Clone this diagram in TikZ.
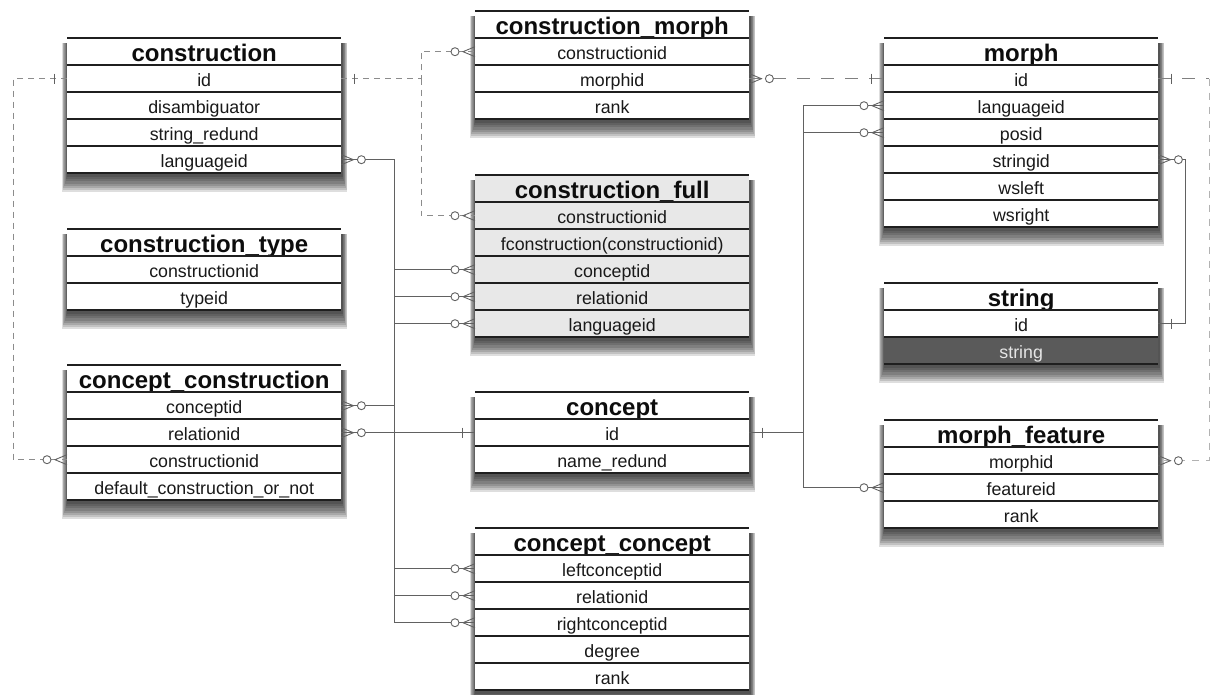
\documentclass[tikz,border=0pt]{standalone}
\usepackage{fontspec}
\setmainfont{Liberation Sans}
\usetikzlibrary{calc}
\pgfdeclarelayer{bg}
\pgfsetlayers{bg,main}
\definecolor{darkfill}{HTML}{5A5A5A}
\definecolor{fullfill}{HTML}{E8E8E8}
\newcommand\hdrfont{\bfseries\fontsize{24}{26}\selectfont}
\newcommand\rowfont{\fontsize{17.8}{20}\selectfont}
\tikzset{
 hdr/.style={anchor=north west, minimum width=274pt, minimum height=27pt, inner sep=0pt, text height=23pt, text depth=4pt, font=\hdrfont, text=black!95},
 row/.style={anchor=north west, minimum width=274pt, minimum height=27pt, inner sep=0pt, text height=21pt, text depth=6pt, font=\rowfont, text=black!90},
 darkrow/.style={fill=darkfill, text=black!10},
 tline/.style={draw=black!88, line width=1.4pt},
 bline/.style={draw=black!88, line width=2pt},
 conn/.style={draw=black!62, line width=0.9pt},
 dashA/.style={draw=black!45, line width=0.9pt, dash pattern=on 6pt off 5pt},
 dashC/.style={draw=black!50, line width=0.9pt, dash pattern=on 13pt off 11pt},
 dashR/.style={draw=black!30, line width=0.8pt, dash pattern=on 7pt off 7pt},
 mk/.style={draw=black!62, line width=0.9pt, solid},
 rs/.style={}
}
% #1 id, #2 x, #3 y top, #4 fill, #5 dark row index, #6 header, #7 number of rows, #8 rows
\newcommand\ertable[8]{%
 \node[hdr, fill=#4] (#1-0) at (#2,#3) {#6};
 \foreach \r [count=\i] in {#8} {%
   \ifnum\i=#5\relax \tikzset{rs/.style={darkrow}}\else\tikzset{rs/.style={}}\fi
   \node[row, fill=#4, rs] (#1-\i) at (#2,#3+27*\i) {\r};
   \draw[tline] (#1-\i.north west) -- (#1-\i.north east);
 }
 \draw[tline] (#1-0.north west) -- (#1-0.north east);
 \draw[bline] (#1-#7.south west) -- (#1-#7.south east);
 \begin{pgfonlayer}{bg}
  \foreach \k in {0,...,7}{
   \fill[black, opacity=0.13] ([xshift=-5pt+\k*0.7pt, yshift=-5pt]#1-0.north west) rectangle ([xshift=6pt-\k*0.7pt, yshift=-19pt+\k*2.2pt]#1-#7.south east);
  }
 \end{pgfonlayer}
}
% zero-or-many marker at a node anchor; #2 = +1 connector leaves rightwards, -1 leftwards
\newcommand\zmany[2]{%
 \draw[mk] ($(#1)+(0,-5)$) -- ($(#1)+(#2*12,0)$) -- ($(#1)+(0,5)$);
 \draw[mk, fill=white] ($(#1)+(#2*20,0)$) circle[radius=4pt];
}
% exactly-one marker
\newcommand\onemk[2]{%
 \draw[mk] ($(#1)+(#2*13,-5)$) -- ($(#1)+(#2*13,5)$);
}
\begin{document}
\begin{tikzpicture}[x=1pt,y=-1pt]
\useasboundingbox (0,0) rectangle (1211,695);

\ertable{c}{67}{38}{white}{0}{construction}{4}{id,disambiguator,string\_redund,languageid}
\ertable{ct}{67}{229}{white}{0}{construction\_type}{2}{constructionid,typeid}
\ertable{cc}{67}{365}{white}{0}{concept\_construction}{4}{conceptid,relationid,constructionid,default\_construction\_or\_not}
\ertable{cm}{475}{11}{white}{0}{construction\_morph}{3}{constructionid,morphid,rank}
\ertable{cf}{475}{175}{fullfill}{0}{construction\_full}{5}{constructionid,fconstruction(constructionid),conceptid,relationid,languageid}
\ertable{co}{475}{392}{white}{0}{concept}{2}{id,name\_redund}
\ertable{ccc}{475}{528}{white}{0}{concept\_concept}{5}{leftconceptid,relationid,rightconceptid,degree,rank}
\ertable{m}{884}{38}{white}{0}{morph}{6}{id,languageid,posid,stringid,wsleft,wsright}
\ertable{s}{884}{283}{white}{2}{string}{2}{id,string}
\ertable{mf}{884}{420}{white}{0}{morph\_feature}{3}{morphid,featureid,rank}

\coordinate (busL) at (13,0);
\coordinate (busB) at (421,0);
\coordinate (busG) at (394,0);
\coordinate (busF) at (803,0);
\coordinate (busS) at (1185,0);
\coordinate (busR) at (1209,0);

% construction.id -> concept_construction.constructionid
\draw[dashA] (c-1.west) -| (busL |- cc-3.west) -- (cc-3.west);
\onemk{c-1.west}{-1}
\zmany{cc-3.west}{-1}
% construction.id -> construction_morph / construction_full
\draw[dashA] (c-1.east) -| (busB |- cm-1.west) -- (cm-1.west);
\draw[dashA] (busB |- c-1.east) |- (cf-1.west);
\onemk{c-1.east}{1}
\zmany{cm-1.west}{-1}
\zmany{cf-1.west}{-1}
% construction_morph.morphid -> morph.id
\draw[dashC] (cm-2.east) -- (m-1.west);
\zmany{cm-2.east}{1}
\onemk{m-1.west}{-1}
% morph.id -> morph_feature.morphid
\draw[dashC] (m-1.east) -- (busR |- m-1.east);
\draw[dashR] (busR |- m-1.east) -- (busR |- mf-1.east) -- (mf-1.east);
\onemk{m-1.east}{1}
\zmany{mf-1.east}{1}
% morph.stringid -> string.id
\draw[conn] (m-4.east) -| (busS |- s-1.east) -- (s-1.east);
\zmany{m-4.east}{1}
\onemk{s-1.east}{1}
% concept.id -> morph / morph_feature
\draw[conn] (co-1.east) -- (busF |- co-1.east);
\draw[conn] (m-2.west) -| (busF |- mf-2.west) -- (mf-2.west);
\draw[conn] (busF |- m-3.west) -- (m-3.west);
\onemk{co-1.east}{1}
\zmany{m-2.west}{-1}
\zmany{m-3.west}{-1}
\zmany{mf-2.west}{-1}
% left bus
\draw[conn] (c-4.east) -| (busG |- ccc-3.west) -- (ccc-3.west);
\draw[conn] (busG |- cf-3.west) -- (cf-3.west);
\draw[conn] (busG |- cf-4.west) -- (cf-4.west);
\draw[conn] (busG |- cf-5.west) -- (cf-5.west);
\draw[conn] (cc-1.east) -- (busG |- cc-1.east);
\draw[conn] (cc-2.east) -- (co-1.west);
\draw[conn] (busG |- ccc-1.west) -- (ccc-1.west);
\draw[conn] (busG |- ccc-2.west) -- (ccc-2.west);
\zmany{c-4.east}{1}
\zmany{cf-3.west}{-1}
\zmany{cf-4.west}{-1}
\zmany{cf-5.west}{-1}
\zmany{cc-1.east}{1}
\zmany{cc-2.east}{1}
\onemk{co-1.west}{-1}
\zmany{ccc-1.west}{-1}
\zmany{ccc-2.west}{-1}
\zmany{ccc-3.west}{-1}
\end{tikzpicture}
\end{document}
